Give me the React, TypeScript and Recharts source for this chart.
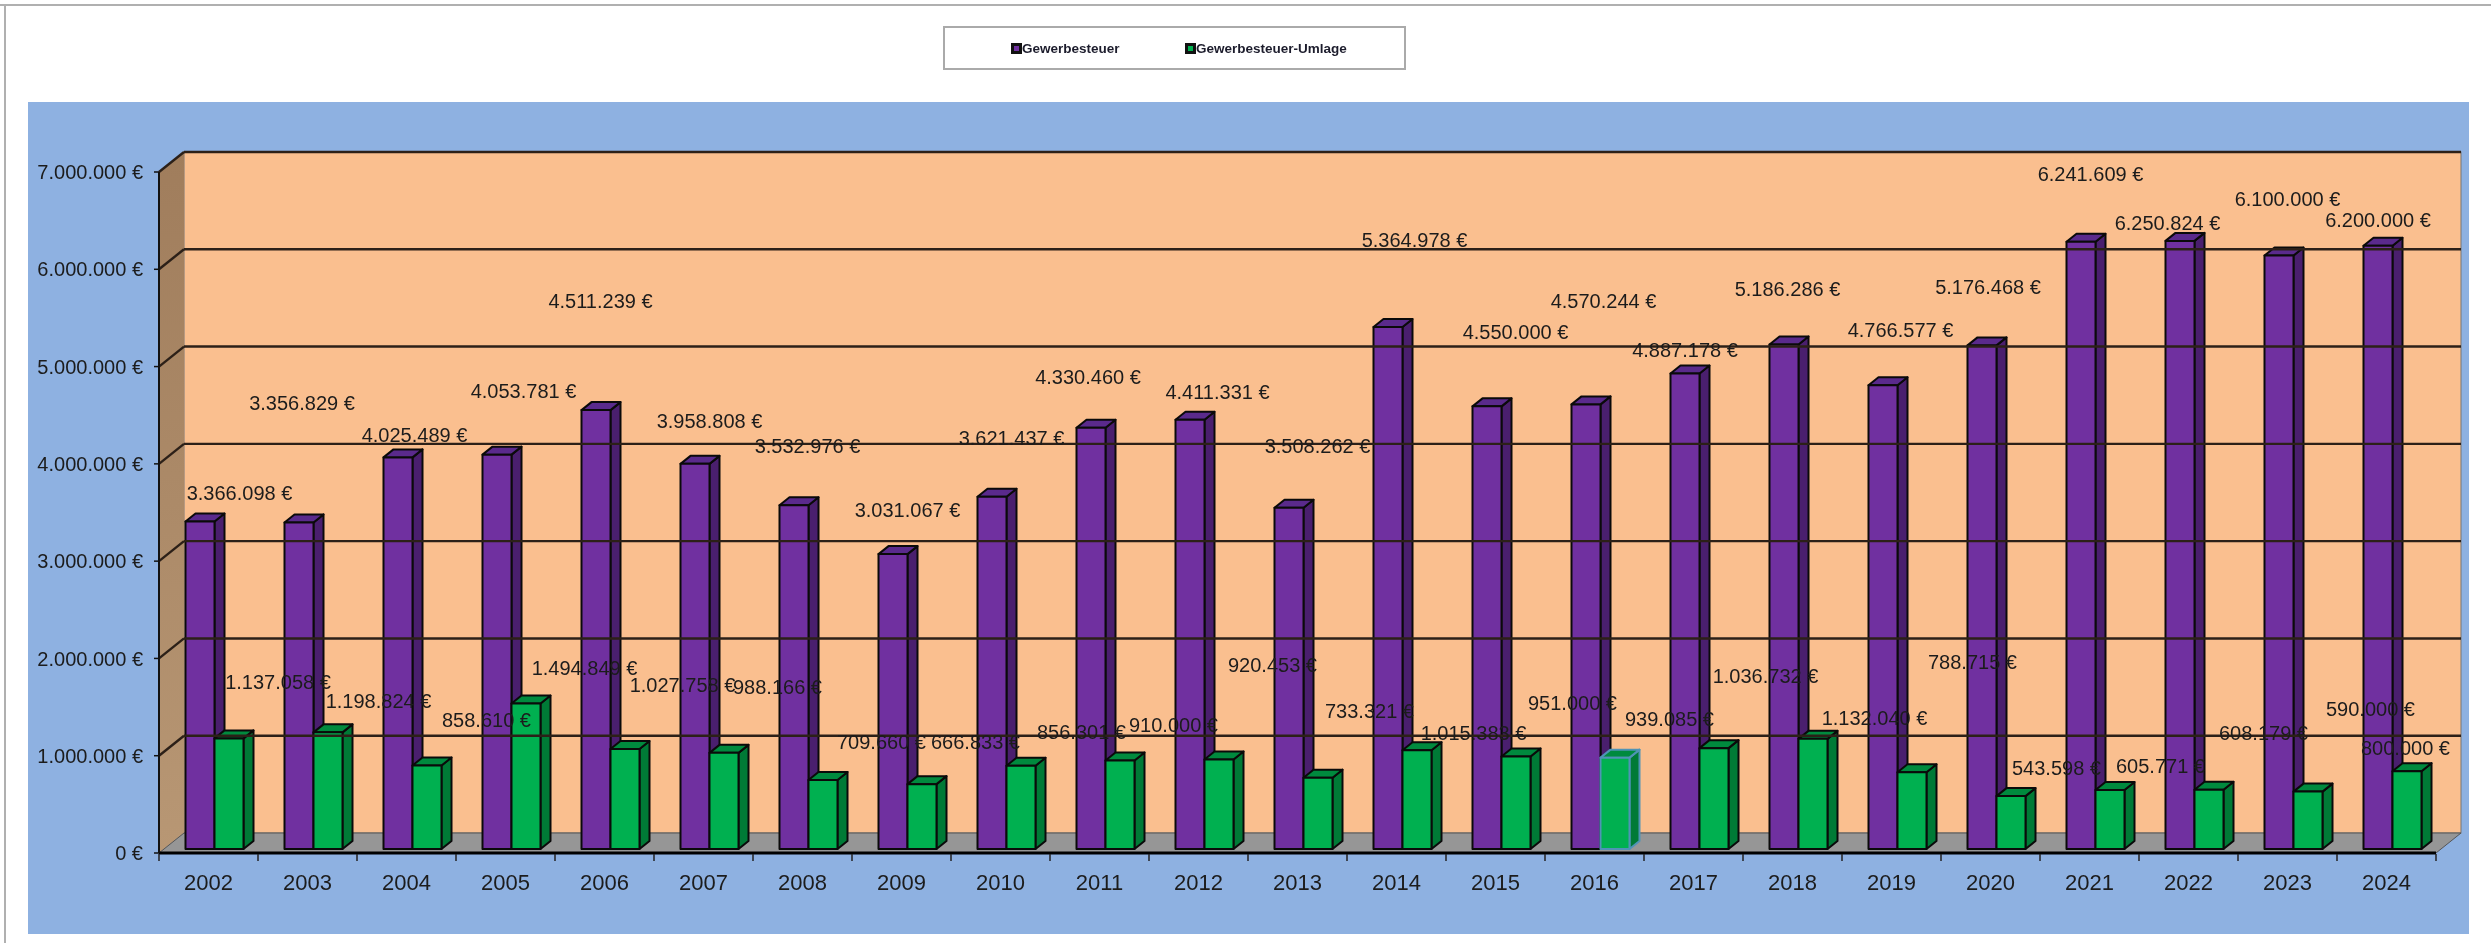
import React from "react";
import { ComposedChart, Bar, XAxis, YAxis, ReferenceArea, ReferenceLine, Legend, LabelList } from "recharts";

const years = ["2002","2003","2004","2005","2006","2007","2008","2009","2010","2011","2012","2013","2014","2015","2016","2017","2018","2019","2020","2021","2022","2023","2024"];
const gewerbesteuer = [3366098,3356829,4025489,4053781,4511239,3958808,3532976,3031067,3621437,4330460,4411331,3508262,5364978,4550000,4570244,4887178,5186286,4766577,5176468,6241609,6250824,6100000,6200000];
const umlage = [1137058,1198824,858610,1494849,1027758,988166,709660,666833,856301,910000,920453,733321,1015383,951000,939085,1036732,1132040,788715,543598,605771,608179,590000,800000];
const yTicks = [0,1000000,2000000,3000000,4000000,5000000,6000000,7000000];
const highlightedYear = "2016";

// Hand-placed label displacement relative to the top of each bar, as in the source chart.
const steuerLabelDx = [39.5,3,16.5,26.5,4.5,14.5,13.5,14.5,19.5,-3,27.5,28.5,26.5,28.5,17.5,0,3.5,17.5,6,9.5,-12.5,8.5,0];
const steuerLabelDy = [-28.5,-119,-22,-64,-109,-43,-59,-44,-59,-51,-28,-62,-87,-74,-103,-24,-55,-55,-58,-68,-18,-56.5,-26];
const umlageLabelDx = [49,50.5,59.5,58.5,57.5,53.5,58.5,53.5,60.5,53.5,53.5,51.5,56.5,56.5,54.5,51.5,61.5,60.5,45.5,50.5,54.5,62.5,-1.5];
const umlageLabelDy = [-56,-31,-45.5,-36,-64,-66,-38,-42,-34,-35.5,-94,-67,-17,-53.5,-38.5,-72,-21,-110,-28,-24,-57,-83,-23];

const chartData = years.map((year, i) => ({ year, steuer: gewerbesteuer[i], umlage: umlage[i] }));

const FONT = '"Liberation Sans", Arial, sans-serif';
const W = 2491, H = 943;
const LEFT = 159, RIGHT = 2436, TOP = 172, BOTTOM = 853;
const YAXIS_W = 120, XAXIS_H = 40;
const BAND = (RIGHT - LEFT) / years.length;
const WALL_DX = 25, WALL_DY = 20;
const BAR_SHIFT_X = 5.5, BAR_SHIFT_Y = 4;
const SIDE_DX = 10, SIDE_DY = 8;

const PURPLE = { front: "#7030a0", top: "#5a2a8c", side: "#4a1f6e" };
const GREEN = { front: "#00b050", top: "#008a3e", side: "#007a36" };

const euro = (v: number) => String(v).replace(/\B(?=(\d{3})+(?!\d))/g, ".") + " €";

function Walls(p: any) {
  const { x, y, width: w, height: h } = p;
  const d = WALL_DX, e = WALL_DY;
  return (
    <g>
      <defs>
        <linearGradient id="sideWall" x1="0" y1="0" x2="0" y2="1">
          <stop offset="0" stopColor="#a07d5c" />
          <stop offset="1" stopColor="#b89774" />
        </linearGradient>
      </defs>
      <rect x={x + d} y={y - e} width={w} height={h} fill="#fabf8f" stroke="#777" strokeWidth={1} />
      <polygon points={`${x},${y} ${x + d},${y - e} ${x + d},${y + h - e} ${x},${y + h}`} fill="url(#sideWall)" />
      <polygon points={`${x},${y + h} ${x + d},${y + h - e} ${x + w + d},${y + h - e} ${x + w},${y + h}`} fill="#969696" stroke="#555" strokeWidth={1} />
    </g>
  );
}

function GridLine(p: any) {
  const { x1, x2, y1 } = p;
  const d = WALL_DX, e = WALL_DY;
  return (
    <g fill="none" stroke="#2c2018" strokeWidth={2.4}>
      <line x1={x1} y1={y1} x2={x1 + d} y2={y1 - e} />
      <line x1={x1 + d} y1={y1 - e} x2={x2 + d} y2={y1 - e} />
    </g>
  );
}

const make3D = (c: typeof PURPLE) => (p: any) => {
  const x = p.x + BAR_SHIFT_X, y = p.y - BAR_SHIFT_Y, w = p.width, h = p.height;
  const stroke = p.year === highlightedYear && c === GREEN ? "#4f93b5" : "#0a0a0a";
  return (
    <g stroke={stroke} strokeWidth={2} strokeLinejoin="round">
      <polygon points={`${x + w},${y} ${x + w + SIDE_DX},${y - SIDE_DY} ${x + w + SIDE_DX},${y + h - SIDE_DY} ${x + w},${y + h}`} fill={c.side} />
      <polygon points={`${x},${y} ${x + SIDE_DX},${y - SIDE_DY} ${x + w + SIDE_DX},${y - SIDE_DY} ${x + w},${y}`} fill={c.top} />
      <rect x={x} y={y} width={w} height={h} fill={c.front} />
    </g>
  );
};

const makeLabel = (dx: number[], dy: number[]) => (p: any) => (
  <text
    x={p.x + p.width / 2 + BAR_SHIFT_X + dx[p.index]}
    y={p.y - BAR_SHIFT_Y + dy[p.index]}
    textAnchor="middle"
    dominantBaseline="central"
    fontFamily={FONT}
    fontSize={20}
    fill="#1c1c1c"
  >
    {euro(p.value)}
  </text>
);

function YearTick(p: any) {
  const { x, y, payload, index } = p;
  const last = index === years.length - 1;
  return (
    <g>
      <line x1={x - BAND / 2} x2={x - BAND / 2} y1={BOTTOM + 1} y2={BOTTOM + 8} stroke="#222" strokeWidth={1.5} />
      {last && <line x1={x + BAND / 2} x2={x + BAND / 2} y1={BOTTOM + 1} y2={BOTTOM + 8} stroke="#222" strokeWidth={1.5} />}
      <text x={x} y={BOTTOM + 29} textAnchor="middle" dominantBaseline="central" fontFamily={FONT} fontSize={22} fill="#1c1c1c">
        {payload.value}
      </text>
    </g>
  );
}

function LegendBox(p: any) {
  const offs = [66, 240];
  return (
    <div style={{ position: "relative", width: 463, height: 44, boxSizing: "border-box", border: "2px solid #aaaaaa", background: "#fff" }}>
      {(p.payload || []).map((it: any, i: number) => (
        <div key={it.value} style={{ position: "absolute", left: offs[i], top: 0, height: 40, display: "flex", alignItems: "center", whiteSpace: "nowrap", fontFamily: FONT, fontWeight: 700, fontSize: 13.5, color: "#1c1c2c" }}>
          <span style={{ display: "inline-block", width: 5, height: 5, border: "3px solid #111", background: it.color, marginRight: 0 }} />
          {it.value}
        </div>
      ))}
    </div>
  );
}

export default function App() {
  return (
    <div style={{ position: "absolute", left: 0, top: 0, width: W, height: H, background: "#fff", overflow: "hidden", filter: "blur(0.6px)" }}>
      <div style={{ position: "absolute", left: 0, top: 4, width: W, height: 2, background: "#b0b0b0" }} />
      <div style={{ position: "absolute", left: 4, top: 4, width: 2, height: H, background: "#b0b0b0" }} />
      <div style={{ position: "absolute", left: 28, top: 102, width: 2441, height: 832, background: "#8eb1e1" }} />
      <div style={{ position: "absolute", left: 0, top: 0 }}>
        <ComposedChart
          width={W}
          height={H}
          data={chartData}
          barSize={29}
          barGap={0}
          margin={{ left: LEFT - YAXIS_W, right: W - RIGHT, top: TOP, bottom: H - BOTTOM - XAXIS_H }}
        >
          <ReferenceArea y1={0} y2={7000000} shape={Walls} ifOverflow="visible" />
          {yTicks.slice(1).map((t) => (
            <ReferenceLine key={t} y={t} shape={GridLine} ifOverflow="visible" />
          ))}
          <XAxis
            dataKey="year"
            height={XAXIS_H}
            interval={0}
            tickLine={false}
            axisLine={{ stroke: "#000", strokeWidth: 3 }}
            tick={YearTick}
          />
          <YAxis
            width={YAXIS_W}
            domain={[0, 7000000]}
            ticks={yTicks}
            tickFormatter={euro}
            tickSize={5}
            tickMargin={11}
            axisLine={{ stroke: "#111", strokeWidth: 2 }}
            tickLine={{ stroke: "#111", strokeWidth: 1.5 }}
            tick={{ fontFamily: FONT, fontSize: 20, fill: "#1c1c1c" }}
          />
          <Legend
            layout="horizontal"
            align="center"
            verticalAlign="middle"
            content={LegendBox}
            wrapperStyle={{ position: "absolute", left: 943, top: 26, width: 463, height: 44, margin: 0 }}
          />
          <Bar dataKey="steuer" name="Gewerbesteuer" fill={PURPLE.front} shape={make3D(PURPLE)} isAnimationActive={false}>
            <LabelList dataKey="steuer" content={makeLabel(steuerLabelDx, steuerLabelDy)} />
          </Bar>
          <Bar dataKey="umlage" name="Gewerbesteuer-Umlage" fill={GREEN.front} shape={make3D(GREEN)} isAnimationActive={false}>
            <LabelList dataKey="umlage" content={makeLabel(umlageLabelDx, umlageLabelDy)} />
          </Bar>
        </ComposedChart>
      </div>
    </div>
  );
}
